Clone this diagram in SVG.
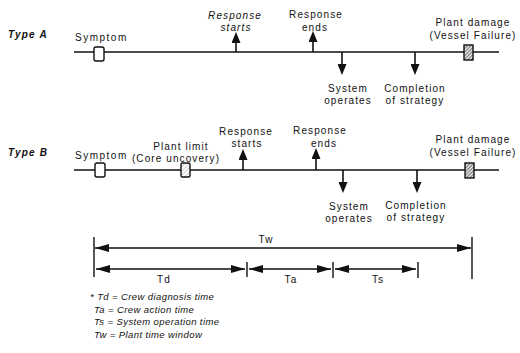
<svg xmlns="http://www.w3.org/2000/svg" width="520" height="353" viewBox="0 0 520 353">
<style>
text{font-family:"Liberation Sans",Arial,sans-serif;font-size:10px;fill:#111;letter-spacing:1.1px}
.mid{text-anchor:middle}
.type{font-weight:bold;font-style:italic;letter-spacing:1.2px}
.it{font-style:italic}
.leg{font-size:9.5px;font-style:italic;letter-spacing:0.4px}
.tl{stroke:#111;stroke-width:1.6;fill:none}
.ev{stroke:#111;stroke-width:1.6;fill:none;marker-end:url(#evt)}
.dim{stroke:#111;stroke-width:1.6;fill:none;marker-start:url(#dh);marker-end:url(#dh)}
.tick{stroke:#111;stroke-width:1.4}
.sym{fill:#fff;stroke:#111;stroke-width:1.4}
.dmg{fill:url(#hatch);stroke:#111;stroke-width:1.4}
.lim{fill:url(#hatchL);stroke:#111;stroke-width:1.4}
</style>
<defs>
<marker id="evt" viewBox="0 0 11 9" refX="0" refY="4.5" markerWidth="11" markerHeight="9" markerUnits="userSpaceOnUse" orient="auto"><path d="M0,0 L11,4.5 L0,9 z" fill="#111"/></marker>
<marker id="dh" viewBox="0 0 14 8" refX="14" refY="4" markerWidth="14" markerHeight="8" markerUnits="userSpaceOnUse" orient="auto-start-reverse"><path d="M0,0 L14,4 L0,8 z" fill="#111"/></marker>
<pattern id="hatch" width="2.5" height="2.5" patternUnits="userSpaceOnUse" patternTransform="rotate(45)"><rect width="2.5" height="2.5" fill="#ddd"/><line x1="0" y1="0" x2="0" y2="2.5" stroke="#444" stroke-width="1.2"/></pattern>
<pattern id="hatchL" width="3" height="3" patternUnits="userSpaceOnUse" patternTransform="rotate(45)"><rect width="3" height="3" fill="#fff"/><line x1="0" y1="0" x2="0" y2="3" stroke="#888" stroke-width="0.8"/></pattern>
</defs>

<g id="connectors">
<!-- Type A timeline -->
<line class="tl" x1="74" y1="52" x2="499" y2="52"/>
<line class="ev" x1="236" y1="52" x2="236" y2="43"/>
<line class="ev" x1="313" y1="52" x2="313" y2="42"/>
<line class="ev" x1="342" y1="52" x2="342" y2="64"/>
<line class="ev" x1="415" y1="52" x2="415" y2="64"/>
<!-- Type B timeline -->
<line class="tl" x1="74" y1="170" x2="499" y2="170"/>
<line class="ev" x1="243" y1="170" x2="243" y2="160"/>
<line class="ev" x1="316" y1="170" x2="316" y2="159"/>
<line class="ev" x1="343" y1="170" x2="343" y2="182"/>
<line class="ev" x1="417" y1="170" x2="417" y2="182"/>
<!-- Time spans -->
<line class="tick" x1="94" y1="237" x2="94" y2="277"/>
<line class="tick" x1="472" y1="237" x2="472" y2="279"/>
<line class="dim" x1="95" y1="248" x2="471" y2="248"/>
<line class="dim" x1="96" y1="269" x2="245" y2="269"/>
<line class="tick" x1="247" y1="262" x2="247" y2="277"/>
<line class="dim" x1="249" y1="269" x2="331" y2="269"/>
<line class="tick" x1="333" y1="262" x2="333" y2="278"/>
<line class="dim" x1="335" y1="269" x2="416" y2="269"/>
<line class="tick" x1="418" y1="262" x2="418" y2="278"/>
</g>

<g id="typeA-label"><text class="type" x="8" y="38">Type A</text></g>
<g id="typeA-symptom">
<text x="75" y="41" style="letter-spacing:1.5px">Symptom</text>
<rect class="sym" x="94" y="47" width="10" height="14" rx="2"/>
</g>
<g id="typeA-response-starts"><text class="mid it" x="235" y="19">Response</text><text class="mid it" x="236" y="31">starts</text></g>
<g id="typeA-response-ends"><text class="mid" x="316" y="18">Response</text><text class="mid" x="315" y="31">ends</text></g>
<g id="typeA-system-operates"><text class="mid" x="348" y="92">System</text><text class="mid" x="348" y="104">operates</text></g>
<g id="typeA-completion"><text class="mid" x="415" y="92">Completion</text><text class="mid" x="415" y="104">of strategy</text></g>
<g id="typeA-plant-damage">
<text class="mid" x="473" y="26">Plant damage</text><text class="mid" x="473" y="39">(Vessel Failure)</text>
<rect class="dmg" x="464" y="45" width="9" height="15"/>
</g>

<g id="typeB-label"><text class="type" x="8" y="156">Type B</text></g>
<g id="typeB-symptom">
<text x="75" y="159" style="letter-spacing:1.5px">Symptom</text>
<rect class="sym" x="95" y="163" width="10" height="14" rx="2"/>
</g>
<g id="typeB-plant-limit">
<text class="mid" x="181" y="150">Plant limit</text><text class="mid" x="176" y="162">(Core uncovery)</text>
<rect class="lim" x="181" y="163" width="9" height="14" rx="1.5"/>
</g>
<g id="typeB-response-starts"><text class="mid" x="246" y="135">Response</text><text class="mid" x="247" y="147">starts</text></g>
<g id="typeB-response-ends"><text class="mid" x="320" y="134">Response</text><text class="mid" x="324" y="147">ends</text></g>
<g id="typeB-system-operates"><text class="mid" x="349" y="210">System</text><text class="mid" x="349" y="222">operates</text></g>
<g id="typeB-completion"><text class="mid" x="416" y="209">Completion</text><text class="mid" x="416" y="221">of strategy</text></g>
<g id="typeB-plant-damage">
<text class="mid" x="473" y="143">Plant damage</text><text class="mid" x="473" y="156">(Vessel Failure)</text>
<rect class="dmg" x="465" y="163" width="9" height="15"/>
</g>

<g id="span-labels">
<text class="mid" x="266" y="243">Tw</text>
<text class="mid" x="164" y="283">Td</text>
<text class="mid" x="291" y="283">Ta</text>
<text class="mid" x="378" y="283">Ts</text>
</g>

<g id="legend">
<text class="leg" x="90" y="300">* Td = Crew diagnosis time</text>
<text class="leg" x="94" y="313">Ta = Crew action time</text>
<text class="leg" x="94" y="325">Ts = System operation time</text>
<text class="leg" x="94" y="338">Tw = Plant time window</text>
</g>
</svg>
